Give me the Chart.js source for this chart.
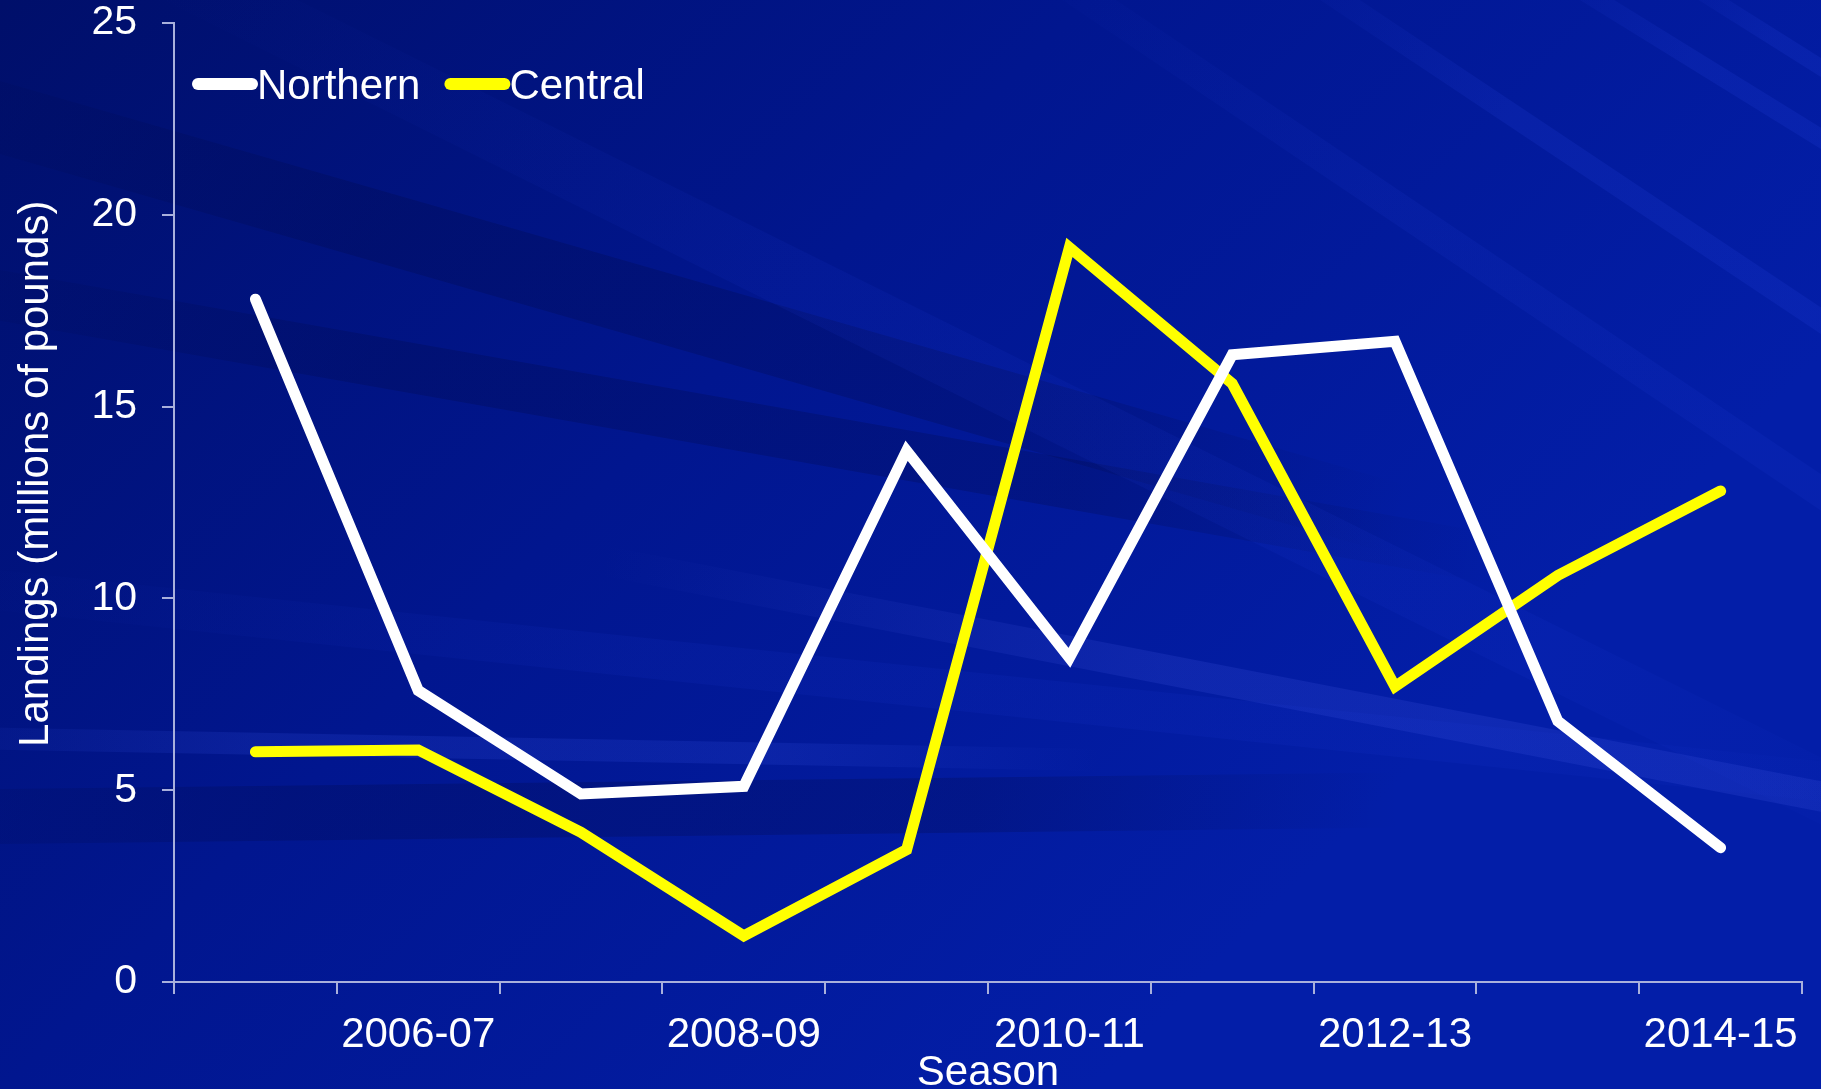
<!DOCTYPE html>
<html>
<head>
<meta charset="utf-8">
<script src="https://cdn.jsdelivr.net/npm/chart.js@4.4.1/dist/chart.umd.min.js"></script>
<style>
html, body { margin: 0; padding: 0; background: #02158c; overflow: hidden; }
</style>
</head>
<body>
<canvas id="myChart" width="1821" height="1089"></canvas>
<script>
// seasons on the x axis, landings in millions of pounds
var seasons = ["2005-06", "2006-07", "2007-08", "2008-09", "2009-10", "2010-11", "2011-12", "2012-13", "2013-14", "2014-15"];
var northern = [17.8, 7.6, 4.9, 5.1, 13.85, 8.45, 16.35, 16.7, 6.8, 3.5];
var central = [6.0, 6.05, 3.9, 1.2, 3.45, 19.15, 15.6, 7.7, 10.6, 12.8];
var yMin = 0, yMax = 25, yStep = 5;

var fontName = "'Liberation Sans', Arial, sans-serif";
var axisColor = "#a9b0dc";

// background: blue gradient with a few soft streaks
var backgroundPlugin = {
    id: "background",
    beforeDraw: function (chart) {
        var ctx = chart.ctx;
        var w = chart.width, h = chart.height;
        ctx.save();
        var g = ctx.createLinearGradient(0, 0, w * 0.6, h);
        g.addColorStop(0, "#000f6a");
        g.addColorStop(0.5, "#01168f");
        g.addColorStop(1, "#031ea8");
        ctx.fillStyle = g;
        ctx.fillRect(0, 0, w, h);

        // soft band from (x1,y1) to (x2,y2), fading at both ends
        function band(x1, y1, x2, y2, width, color) {
            var lg = ctx.createLinearGradient(x1, y1, x2, y2);
            lg.addColorStop(0, "rgba(" + color + ",0)");
            lg.addColorStop(0.35, "rgba(" + color + ",1)");
            lg.addColorStop(0.75, "rgba(" + color + ",1)");
            lg.addColorStop(1, "rgba(" + color + ",0)");
            ctx.beginPath();
            ctx.lineCap = "butt";
            ctx.lineWidth = width;
            ctx.strokeStyle = lg;
            ctx.moveTo(x1, y1);
            ctx.lineTo(x2, y2);
            ctx.stroke();
        }
        ctx.globalAlpha = 0.22;
        band(-200, 60, 1400, 520, 70, "0,6,60");
        band(-200, 260, 1500, 560, 50, "0,6,60");
        band(-300, 820, 1400, 800, 55, "0,6,60");
        ctx.globalAlpha = 0.16;
        band(-200, 735, 1100, 760, 22, "60,90,240");
        band(600, 560, 2200, 870, 30, "80,100,240");
        band(1250, -60, 2000, 440, 22, "40,70,230");
        band(1500, -60, 2050, 280, 18, "40,70,230");
        band(1650, -40, 2000, 180, 16, "40,70,230");
        ctx.globalAlpha = 0.10;
        band(1000, -60, 2100, 680, 30, "40,70,230");
        band(150, -40, 2000, 880, 60, "30,60,220");
        band(-100, 580, 2000, 800, 40, "30,60,220");
        ctx.restore();
    }
};

// legend drawn inside the plot, top-left
var legendPlugin = {
    id: "insideLegend",
    afterDatasetsDraw: function (chart) {
        var ctx = chart.ctx;
        var x = chart.chartArea.left + 24;
        var y = 84;
        ctx.save();
        ctx.font = "42px " + fontName;
        ctx.textBaseline = "middle";
        ctx.textAlign = "left";
        chart.data.datasets.forEach(function (ds) {
            ctx.beginPath();
            ctx.lineCap = "round";
            ctx.lineWidth = 12;
            ctx.strokeStyle = ds.borderColor;
            ctx.moveTo(x, y);
            ctx.lineTo(x + 54, y);
            ctx.stroke();
            ctx.fillStyle = "#ffffff";
            ctx.fillText(ds.label, x + 59, y + 3);
            x += 59 + ctx.measureText(ds.label).width + 30;
        });
        ctx.restore();
    }
};

// axis titles
var titlesPlugin = {
    id: "axisTitles",
    afterDraw: function (chart) {
        var ctx = chart.ctx;
        var a = chart.chartArea;
        ctx.save();
        ctx.fillStyle = "#ffffff";
        ctx.font = "42px " + fontName;
        ctx.textAlign = "center";
        ctx.textBaseline = "alphabetic";
        ctx.fillText("Season", (a.left + a.right) / 2, 1085);
        ctx.translate(48, a.top + a.height * 0.47);
        ctx.rotate(-Math.PI / 2);
        ctx.fillText("Landings (millions of pounds)", 0, 0);
        ctx.restore();
    }
};

var ctx = document.getElementById("myChart").getContext("2d");
var myChart = new Chart(ctx, {
    type: "line",
    data: {
        labels: seasons,
        datasets: [{
            label: "Northern",
            data: northern,
            borderColor: "#ffffff",
            borderWidth: 11,
            borderCapStyle: "round",
            borderJoinStyle: "miter",
            pointRadius: 0,
            tension: 0,
            fill: false
        }, {
            label: "Central",
            data: central,
            borderColor: "#ffff00",
            borderWidth: 11,
            borderCapStyle: "round",
            borderJoinStyle: "miter",
            pointRadius: 0,
            tension: 0,
            fill: false
        }]
    },
    options: {
        responsive: false,
        animation: false,
        devicePixelRatio: 1,
        layout: { padding: { top: 0, right: 19, left: 0, bottom: 0 } },
        plugins: {
            legend: { display: false },
            tooltip: { enabled: false }
        },
        scales: {
            x: {
                offset: true,
                grid: {
                    offset: true,
                    drawOnChartArea: false,
                    tickLength: 12,
                    color: axisColor,
                    lineWidth: 2
                },
                border: { display: true, color: axisColor, width: 2 },
                ticks: {
                    autoSkip: false,
                    maxRotation: 0,
                    padding: 16,
                    color: "#ffffff",
                    font: { family: fontName, size: 42 },
                    callback: function (value, index) {
                        return index % 2 === 1 ? seasons[index] : "";
                    }
                },
                afterFit: function (scale) { scale.height = 107; }
            },
            y: {
                min: yMin,
                max: yMax,
                grid: {
                    drawOnChartArea: false,
                    tickLength: 12,
                    color: axisColor,
                    lineWidth: 2
                },
                border: { display: true, color: axisColor, width: 2 },
                ticks: {
                    stepSize: yStep,
                    padding: 25,
                    color: "#ffffff",
                    font: { family: fontName, size: 41 }
                },
                afterFit: function (scale) {
                    scale.width = 174;
                    scale.paddingTop = 23;
                    scale.paddingBottom = 0;
                }
            }
        }
    },
    plugins: [backgroundPlugin, legendPlugin, titlesPlugin]
});
</script>
</body>
</html>
